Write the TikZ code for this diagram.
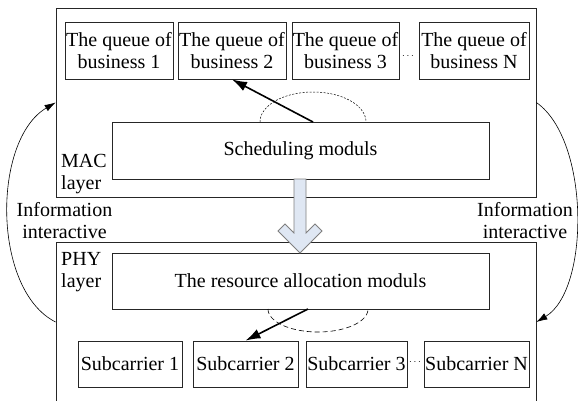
\documentclass[tikz,border=0pt]{standalone}
\usepackage{fontspec}
\setmainfont{Liberation Serif}
\usetikzlibrary{arrows.meta}
\definecolor{arrowfill}{HTML}{DFE7F3}
\definecolor{arrowline}{HTML}{7F7F7F}
\definecolor{boxline}{HTML}{262626}
\tikzset{
  txt/.style={font=\fontsize{20}{22}\selectfont, inner sep=0pt, align=center},
  box/.style={txt, draw=boxline, line width=0.8pt},
  layerbox/.style={draw=boxline, line width=0.8pt, inner sep=0pt},
  thickarrow/.style={line width=1.6pt, -{Latex[length=15pt,width=10pt]}},
  infoarrow/.style={line width=0.6pt, -{Latex[length=11pt,width=7pt]}},
  dotsnode/.style={inner sep=0pt, font=\fontsize{10}{12}\selectfont},
}
\begin{document}
\begin{tikzpicture}[x=1pt,y=-1pt]
\clip (0,0) rectangle (578,400);
% layer boxes
\node[layerbox, minimum width=480pt, minimum height=189pt] (mac) at (296,102.5) {};
\node[layerbox, minimum width=480pt, minimum height=160pt] (phy) at (296,322) {};
% queues
\node[box, minimum width=108pt, minimum height=57pt] (q1) at (119,50.5) {The queue of\\business 1};
\node[box, minimum width=108pt, minimum height=57pt] (q2) at (232,50.5) {The queue of\\business 2};
\node[box, minimum width=107pt, minimum height=57pt] (q3) at (345.5,50.5) {The queue of\\business 3};
\node[box, minimum width=110pt, minimum height=57pt] (qN) at (474,50.5) {The queue of\\business N};
\node[dotsnode] (qdots) at (408,56) {$\cdots$};
% scheduling
\node[box, minimum width=377pt, minimum height=57pt] (sched) at (300.5,150.5) {Scheduling moduls};
\node[txt, anchor=base west, align=left] (maclbl) at (61,189) {MAC\\layer};
% resource
\node[box, minimum width=377pt, minimum height=56pt] (res) at (300.5,281) {The resource allocation moduls};
\node[txt, anchor=base west, align=left] (phylbl) at (61,287) {PHY\\layer};
% subcarriers
\node[box, minimum width=104pt, minimum height=46pt] (s1) at (130,364) {Subcarrier 1};
\node[box, minimum width=105pt, minimum height=46pt] (s2) at (245.5,364) {Subcarrier 2};
\node[box, minimum width=101pt, minimum height=46pt] (s3) at (356.5,364) {Subcarrier 3};
\node[box, minimum width=105pt, minimum height=46pt] (sN) at (476.5,364) {Subcarrier N};
\node[dotsnode] (sdots) at (415,362) {$\cdots$};
% information labels
\node[txt, anchor=base] (infoL) at (64.5,238) {Information\\interactive};
\node[txt, anchor=base] (infoR) at (525,238) {Information\\interactive};
% dashed arcs
\draw[line width=0.5pt, dash pattern=on 2pt off 1.5pt] plot[domain=180:0, samples=60, smooth] ({313+53*cos(\x)}, {122-30*sin(\x)});
\draw[line width=0.6pt, dash pattern=on 5pt off 3pt] plot[domain=180:360, samples=60, smooth] ({318+50*cos(\x)}, {309-23*sin(\x)});
% selection arrows
\coordinate (schedpt) at (313,122);
\coordinate (respt) at (308,309);
\draw[thickarrow] (schedpt) -- (q2.south);
\draw[thickarrow] (respt) -- (s2.north);
% block arrow
\draw[draw=arrowline, fill=arrowfill, line width=0.8pt, line join=miter]
  (294,179) -- (306,179) -- (306,233) -- (315,224) -- (322,231) -- (300,253)
  -- (278,231) -- (285,224) -- (294,233) -- cycle;
% information curves
\draw[infoarrow] (phy.west) .. controls (-8,290) and (-8,140) .. (mac.west);
\draw[infoarrow] (mac.east) .. controls (590,140) and (590,290) .. (phy.east);
\end{tikzpicture}
\end{document}
